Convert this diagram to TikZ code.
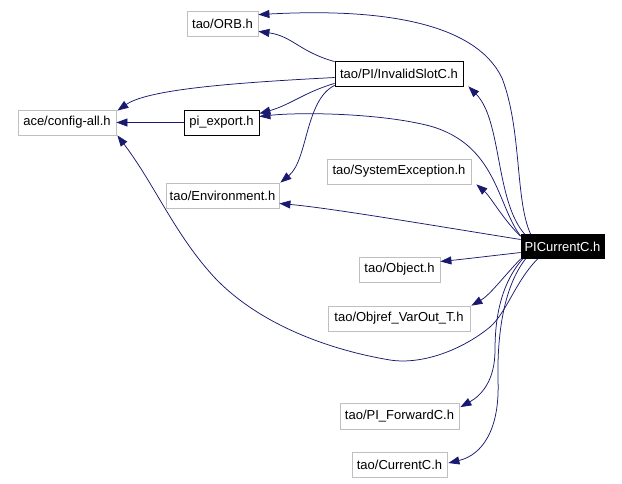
\documentclass[tikz,border=0pt]{standalone}
\usepackage{fontspec}
\setmainfont{Liberation Sans}
\usetikzlibrary{arrows.meta,calc}
\definecolor{edgeblue}{HTML}{191970}
\definecolor{boxgray}{HTML}{BFBFBF}
\tikzset{
  hbox/.style={draw=boxgray, line width=0.8pt, rectangle, inner sep=0pt, font=\fontsize{13}{15}\selectfont, text=black},
  hboxb/.style={hbox, draw=black},
  hboxcur/.style={hbox, draw=black, fill=black, text=white},
  dep/.style={draw=edgeblue, line width=0.75pt, -{Triangle[length=11pt,width=8pt]}, fill=none},
}
\begin{document}
\begin{tikzpicture}[x=1pt,y=-1pt]
\useasboundingbox (0,0) rectangle (622,483);
\node[hbox, minimum width=71pt, minimum height=25pt] (ORB) at (222.5,23.5) {tao/ORB.h};
\node[hboxb, minimum width=128pt, minimum height=25pt] (Inv) at (399,73.5) {tao/PI/InvalidSlotC.h};
\node[hbox, minimum width=98pt, minimum height=25pt] (CFG) at (67,122.5) {ace/config-all.h};
\node[hboxb, minimum width=75pt, minimum height=25pt] (PIE) at (221.5,122.5) {pi\_export.h};
\node[hbox, minimum width=144pt, minimum height=25pt] (SYS) at (399,171.5) {tao/SystemException.h};
\node[hbox, minimum width=113pt, minimum height=25pt] (ENV) at (222.5,195.5) {tao/Environment.h};
\node[hboxcur, minimum width=83pt, minimum height=24pt] (PIC) at (562.5,246.5) {PICurrentC.h};
\node[hbox, minimum width=81pt, minimum height=25pt] (OBJ) at (399.5,269.5) {tao/Object.h};
\node[hbox, minimum width=142pt, minimum height=25pt] (REF) at (399,318.5) {tao/Objref\_VarOut\_T.h};
\node[hbox, minimum width=119pt, minimum height=26pt] (FWD) at (399.5,416.5) {tao/PI\_ForwardC.h};
\node[hbox, minimum width=95pt, minimum height=25pt] (CUR) at (399.5,465) {tao/CurrentC.h};

% PICurrentC -> tao/ORB.h
\draw[dep] ($(PIC.north west)+(10,0)$) .. controls (515,200) and (522,130) .. (502,78)
  .. controls (475,22) and (380,8) .. ($(ORB.north east)+(0,4)$);
% InvalidSlotC -> ORB
\draw[dep] ($(Inv.north west)+(0,1)$) .. controls (300,52) and (292,36) .. ($(ORB.south east)+(0,-5)$);
% InvalidSlotC -> config-all
\draw[dep] ($(Inv.west)+(0,4)$) .. controls (250,82) and (150,88) .. ($(CFG.north east)+(1,1)$);
% InvalidSlotC -> pi_export
\draw[dep] ($(Inv.south west)+(0,-3)$) .. controls (305,92) and (290,105) .. ($(PIE.east)+(0,-9)$);
% InvalidSlotC -> Environment
\draw[dep] ($(Inv.south west)+(0,-1)$) .. controls (305,100) and (308,160) .. ($(ENV.north east)+(1,0)$);
% PICurrentC -> InvalidSlotC
\draw[dep] ($(PIC.north west)+(4,0)$) .. controls (495,200) and (502,120) .. ($(Inv.south east)+(5,0)$);
% pi_export -> config-all
\draw[dep] (PIE.west) -- (CFG.east);
% PICurrentC -> pi_export
\draw[dep] ($(PIC.north west)+(0,2)$) .. controls (497,205) and (497,145) .. (430,126)
  .. controls (380,113) and (300,112) .. ($(PIE.east)+(0,-6)$);
% PICurrentC -> SystemException
\draw[dep] ($(PIC.north west)+(0,2)$) .. controls (505,222) and (490,196) .. ($(SYS.south east)+(5,0)$);
% PICurrentC -> Environment
\draw[dep] ($(PIC.west)+(0,-7)$) .. controls (430,225) and (330,208) .. ($(ENV.east)+(0,8)$);
% PICurrentC -> Object
\draw[dep] ($(PIC.west)+(0,6)$) .. controls (490,256) and (465,259) .. ($(OBJ.east)+(0,-8)$);
% PICurrentC -> Objref_VarOut_T
\draw[dep] (PIC.south west) .. controls (505,275) and (490,295) .. ($(REF.north east)+(1,0)$);
% PICurrentC -> config-all
\draw[dep] ($(PIC.south west)+(17,0)$) .. controls (515,282) and (507,312) .. (490,327)
  .. controls (462,350) and (422,365) .. (390,360)
  .. controls (330,350) and (260,325) .. (215,278)
  .. controls (175,235) and (155,185) .. ($(CFG.south east)+(1,0)$);
% PICurrentC -> PI_ForwardC
\draw[dep] ($(PIC.south west)+(2,0)$) .. controls (500,285) and (495,320) .. (495,350)
  .. controls (495,380) and (482,395) .. ($(FWD.north east)+(1,4)$);
% PICurrentC -> CurrentC
\draw[dep] ($(PIC.south west)+(5,0)$) .. controls (505,285) and (497,330) .. (498,380)
  .. controls (500,430) and (482,455) .. ($(CUR.east)+(1,-2)$);
\end{tikzpicture}
\end{document}
